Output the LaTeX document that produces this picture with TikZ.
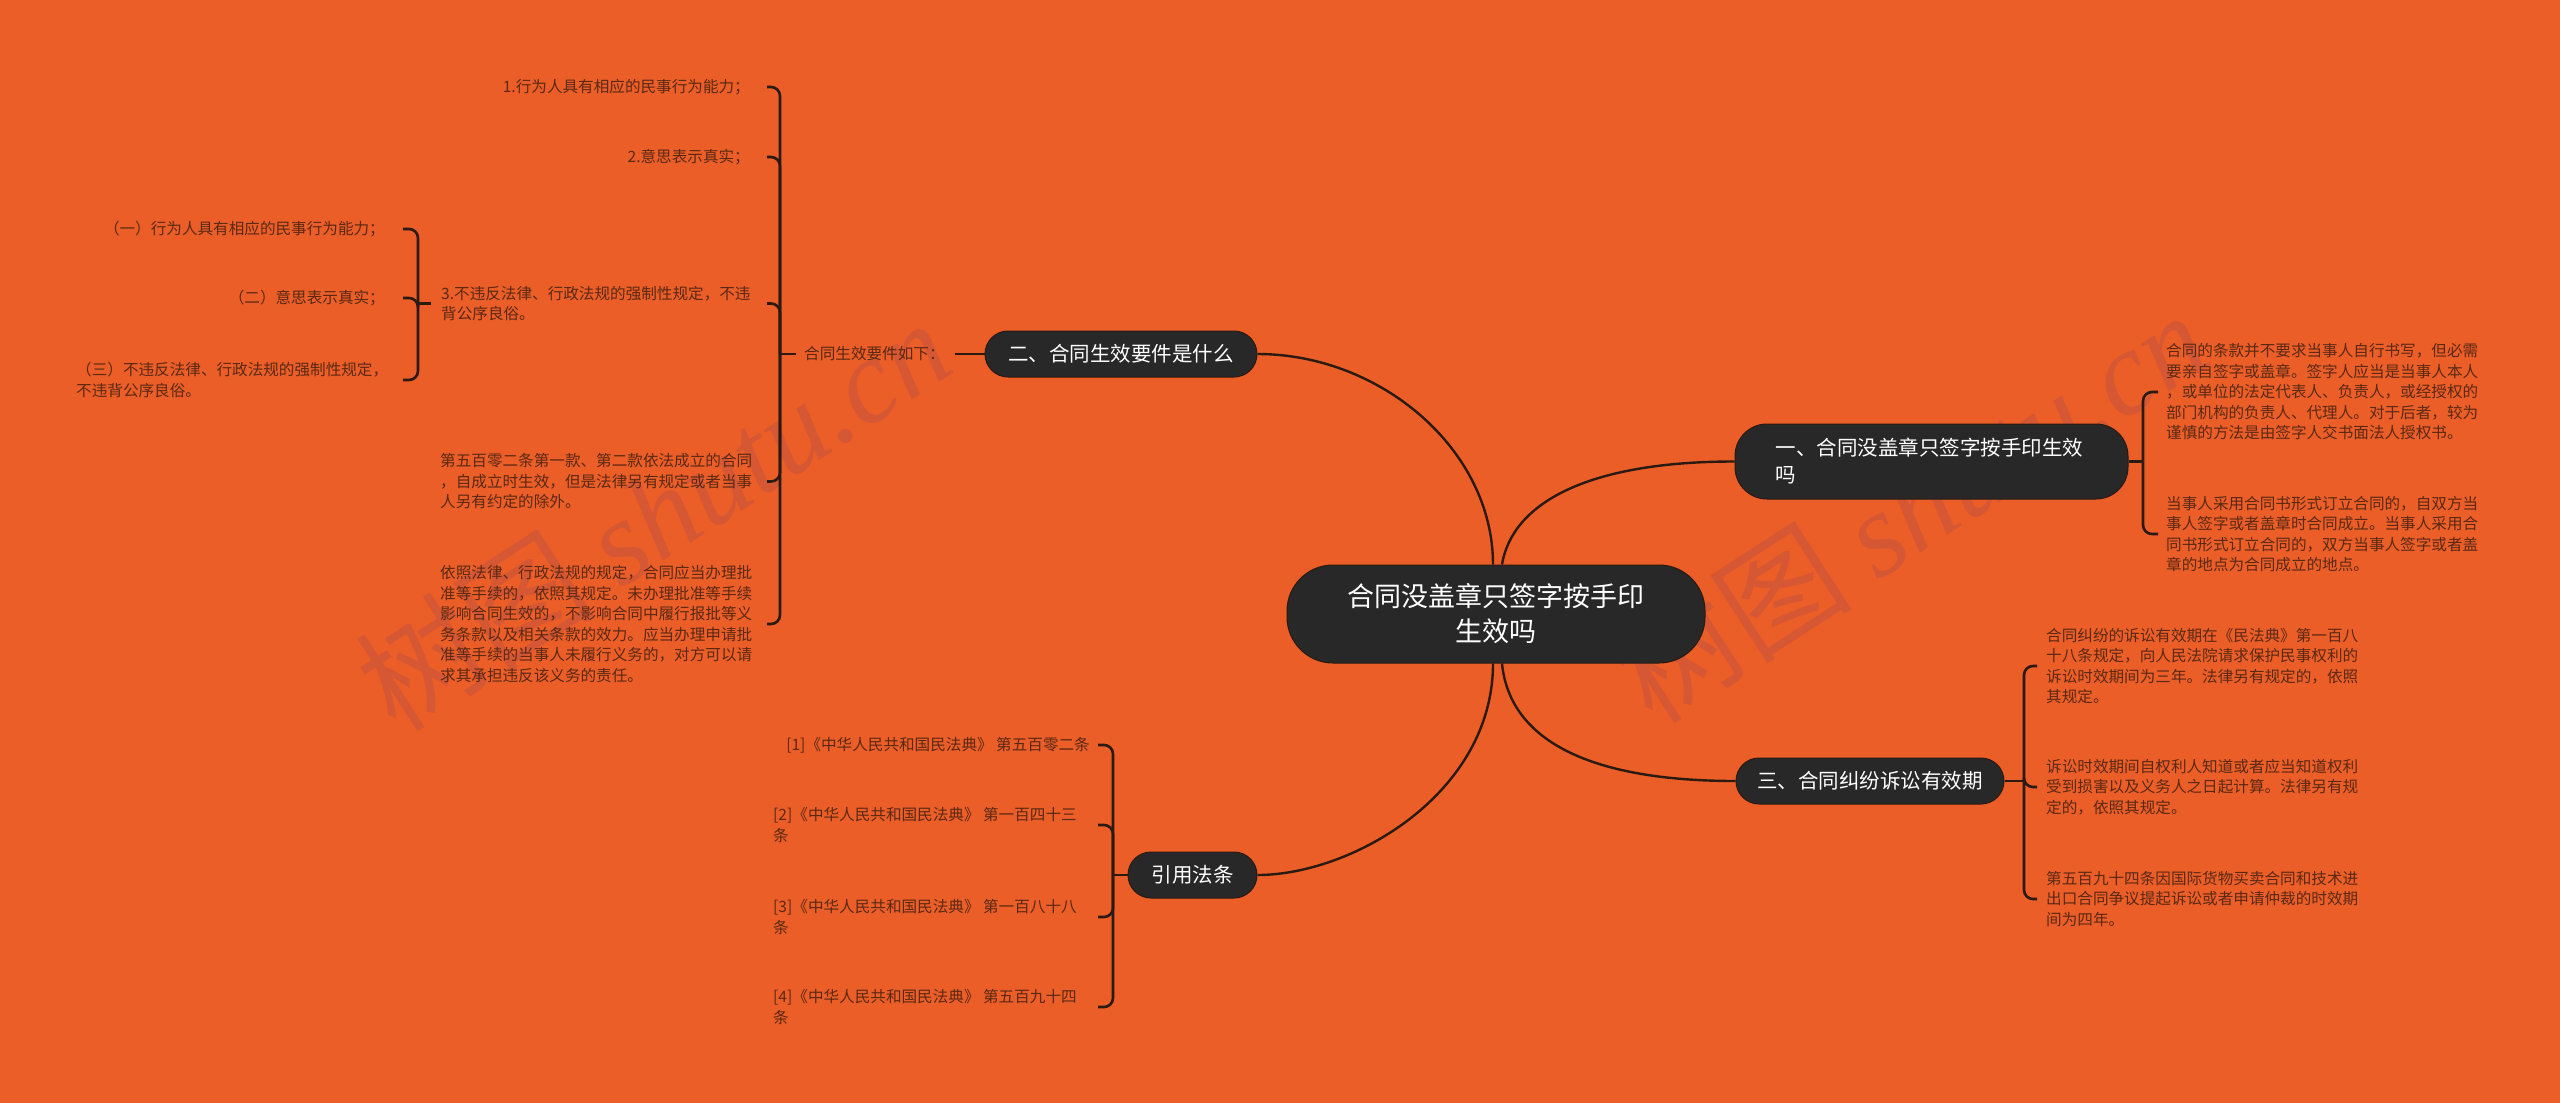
\documentclass[tikz,border=0pt]{standalone}
\usepackage{fontspec}
\setmainfont{Noto Sans CJK SC}
\newfontfamily\wmserif{Liberation Serif}
\definecolor{bg}{HTML}{EB5E28}
\definecolor{linec}{HTML}{2A1A12}
\definecolor{txt}{HTML}{5A2914}
\definecolor{nodefill}{HTML}{282828}
\definecolor{wm}{HTML}{D65733}
\tikzset{
  small/.style={inner sep=0pt, text=txt, font=\fontsize{15.6}{20.5}\selectfont, align=left},
  smallr/.style={small, align=right},
  topic/.style={fill=nodefill, draw=linec, line width=1pt, text=white,
    font=\fontsize{20.5}{27}\selectfont, inner sep=0pt, rounded corners=23pt, minimum height=46pt},
  curve/.style={draw=linec, line width=2.4pt},
  brk/.style={draw=linec, line width=2.6pt, rounded corners=9pt},
  wmark/.style={text=wm, rotate=33, font=\fontsize{120}{130}\selectfont},
}
\begin{document}
\begin{tikzpicture}[x=1pt,y=-1pt]
\fill[bg] (0,0) rectangle (2560,1103);
\useasboundingbox (0,0) rectangle (2560,1103);

% watermarks
\node[wmark] (wm1) at (653,514) {树图 {\wmserif\itshape shutu.cn}};
\node[wmark] (wm2) at (1910,506) {树图 {\wmserif\itshape shutu.cn}};

% main nodes
\node[topic, font=\fontsize{27}{35}\selectfont, align=center, minimum width=418pt,
      minimum height=98pt, rounded corners=46pt] (root) at (1496,614) {合同没盖章只签字按手印\\生效吗};
\node[topic, minimum width=272pt] (n2) at (1121,354) {二、合同生效要件是什么};
\node[topic, align=left, text width=312pt, inner xsep=40.5pt, minimum height=75pt,
      rounded corners=32pt] (n1) at (1931.5,461.5) {一、合同没盖章只签字按手印生效\\吗};
\node[topic, minimum width=268pt] (n3) at (1870,781) {三、合同纠纷诉讼有效期};
\node[topic, minimum width=129pt] (n4) at (1192.5,875) {引用法条};

% main curves
\draw[curve] (n2.east) .. controls +(123,0) and +(0,-115) .. ([xshift=-3pt]root.north);
\draw[curve] ([xshift=6pt]root.north) .. controls +(10,-60) and +(-150,0) .. (n1.west);
\draw[curve] ([xshift=6pt]root.south) .. controls +(8,80) and +(-140,0) .. (n3.west);
\draw[curve] ([xshift=-3pt]root.south) .. controls +(0,130) and +(95,0) .. (n4.east);

% ---- left branch: 二 ----
\node[small, anchor=west] (L) at (804,354) {合同生效要件如下：};
\draw[brk] (n2.west) -- ([xshift=10pt]L.east);
\coordinate (barL) at (780,0);
\coordinate (tipL) at (767,0);
\node[smallr, anchor=east] (c1) at (750,87) {1.行为人具有相应的民事行为能力；};
\node[smallr, anchor=east] (c2) at (750,157) {2.意思表示真实；};
\node[small, anchor=west] (c3) at (441,303.5) {3.不违反法律、行政法规的强制性规定，不违\\背公序良俗。};
\node[small, anchor=west] (c4) at (440,481.5) {第五百零二条第一款、第二款依法成立的合同\\，自成立时生效，但是法律另有规定或者当事\\人另有约定的除外。};
\node[small, anchor=west] (c5) at (440,624) {依照法律、行政法规的规定，合同应当办理批\\准等手续的，依照其规定。未办理批准等手续\\影响合同生效的，不影响合同中履行报批等义\\务条款以及相关条款的效力。应当办理申请批\\准等手续的当事人未履行义务的，对方可以请\\求其承担违反该义务的责任。};
\draw[brk] ([xshift=-8pt]L.west) -- (L.west -| barL);
\foreach \c in {c1,c2,c3,c4,c5}
  \draw[brk] (L.west -| barL) -- (\c.east -| barL) -- (\c.east -| tipL);

% sub branch of c3
\coordinate (barC) at (418,0);
\coordinate (tipC) at (403,0);
\node[smallr, anchor=east] (d1) at (385,229) {（一）行为人具有相应的民事行为能力；};
\node[smallr, anchor=east] (d2) at (385,298) {（二）意思表示真实；};
\node[small, anchor=west] (d3) at (76,380) {（三）不违反法律、行政法规的强制性规定，\\不违背公序良俗。};
\draw[brk] ([xshift=-10pt]c3.west) -- (c3.west -| barC);
\foreach \c in {d1,d2,d3}
  \draw[brk] (c3.west -| barC) -- (\c.east -| barC) -- (\c.east -| tipC);

% ---- 引用法条 ----
\coordinate (barG) at (1113,0);
\coordinate (tipG) at (1098,0);
\node[smallr, anchor=east] (g1) at (1090,745) {[1]《中华人民共和国民法典》 第五百零二条};
\node[small, anchor=west] (g2) at (773,825) {[2]《中华人民共和国民法典》 第一百四十三\\条};
\node[small, anchor=west] (g3) at (773,917) {[3]《中华人民共和国民法典》 第一百八十八\\条};
\node[small, anchor=west] (g4) at (773,1007) {[4]《中华人民共和国民法典》 第五百九十四\\条};
\draw[brk] (n4.west) -- (n4.west -| barG);
\foreach \c in {g1,g2,g3,g4}
  \draw[brk] (n4.west -| barG) -- (\c.east -| barG) -- (\c.east -| tipG);

% ---- right branch: 一 ----
\coordinate (barE) at (2143,0);
\coordinate (tipE) at (2158,0);
\node[small, anchor=west] (e1) at (2166,392) {合同的条款并不要求当事人自行书写，但必需\\要亲自签字或盖章。签字人应当是当事人本人\\，或单位的法定代表人、负责人，或经授权的\\部门机构的负责人、代理人。对于后者，较为\\谨慎的方法是由签字人交书面法人授权书。};
\node[small, anchor=west] (e2) at (2166,534) {当事人采用合同书形式订立合同的，自双方当\\事人签字或者盖章时合同成立。当事人采用合\\同书形式订立合同的，双方当事人签字或者盖\\章的地点为合同成立的地点。};
\draw[brk] (n1.east) -- (n1.east -| barE);
\foreach \c in {e1,e2}
  \draw[brk] (n1.east -| barE) -- (\c.west -| barE) -- (\c.west -| tipE);

% ---- right branch: 三 ----
\coordinate (barF) at (2024,0);
\coordinate (tipF) at (2037,0);
\node[small, anchor=west] (f1) at (2046,666) {合同纠纷的诉讼有效期在《民法典》第一百八\\十八条规定，向人民法院请求保护民事权利的\\诉讼时效期间为三年。法律另有规定的，依照\\其规定。};
\node[small, anchor=west] (f2) at (2046,787) {诉讼时效期间自权利人知道或者应当知道权利\\受到损害以及义务人之日起计算。法律另有规\\定的，依照其规定。};
\node[small, anchor=west] (f3) at (2046,899) {第五百九十四条因国际货物买卖合同和技术进\\出口合同争议提起诉讼或者申请仲裁的时效期\\间为四年。};
\draw[brk] (n3.east) -- (n3.east -| barF);
\foreach \c in {f1,f2,f3}
  \draw[brk] (n3.east -| barF) -- (\c.west -| barF) -- (\c.west -| tipF);
\end{tikzpicture}
\end{document}
